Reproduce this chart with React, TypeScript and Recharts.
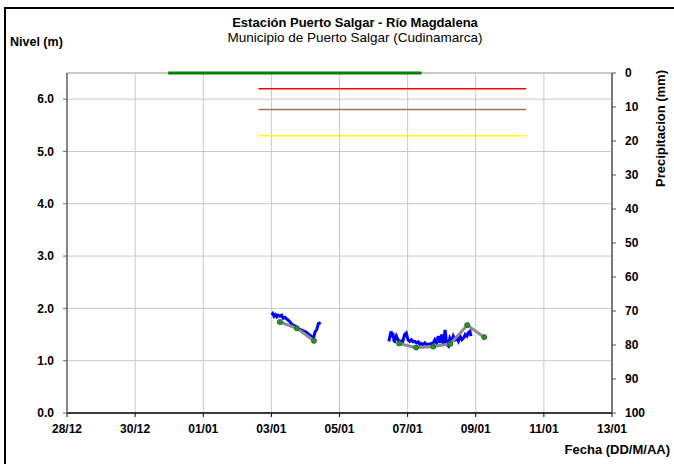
import {
  CartesianGrid,
  ComposedChart,
  Line,
  ReferenceLine,
  XAxis,
  YAxis,
} from "recharts";

// eje X: dias contados desde el 28/12
const etiquetasFecha = ["28/12", "30/12", "01/01", "03/01", "05/01", "07/01", "09/01", "11/01", "13/01"];
const diasTicks = etiquetasFecha.map((_, i) => i * 2);
const nivelTicks = [0, 1, 2, 3, 4, 5, 6];
const precipTicks = [0, 10, 20, 30, 40, 50, 60, 70, 80, 90, 100];

// nivel registrado (sensor) - [dia, nivel m]
const nivelTramo1: [number, number][] = [
  [6.01, 1.87], [6.04, 1.9], [6.08, 1.85], [6.12, 1.88], [6.16, 1.84], [6.2, 1.87],
  [6.25, 1.85], [6.3, 1.87], [6.35, 1.81], [6.4, 1.83], [6.45, 1.8], [6.5, 1.77],
  [6.55, 1.74], [6.6, 1.7], [6.64, 1.68], [6.7, 1.66], [6.74, 1.65], [6.8, 1.61],
  [6.84, 1.6], [6.9, 1.58], [6.94, 1.57], [7.0, 1.55], [7.04, 1.54], [7.1, 1.5],
  [7.13, 1.49], [7.18, 1.46], [7.23, 1.41], [7.28, 1.55], [7.33, 1.59], [7.38, 1.71],
  [7.45, 1.73],
];

const nivelTramo2: [number, number][] = [
  [9.45, 1.37], [9.49, 1.5], [9.52, 1.56], [9.55, 1.45], [9.57, 1.53], [9.6, 1.38],
  [9.62, 1.37], [9.67, 1.47], [9.72, 1.4], [9.77, 1.36], [9.82, 1.38], [9.86, 1.37],
  [9.91, 1.5], [9.96, 1.53], [10.01, 1.4], [10.06, 1.37], [10.11, 1.4], [10.16, 1.36],
  [10.21, 1.37], [10.26, 1.34], [10.31, 1.36], [10.36, 1.31], [10.4, 1.33], [10.45, 1.3],
  [10.5, 1.34], [10.55, 1.31], [10.65, 1.32], [10.75, 1.34], [10.8, 1.4], [10.85, 1.34],
  [10.9, 1.47], [10.95, 1.34], [11.0, 1.5], [11.05, 1.32], [11.1, 1.59], [11.15, 1.31],
  [11.2, 1.28], [11.24, 1.43], [11.29, 1.37], [11.34, 1.47], [11.39, 1.4], [11.44, 1.43],
  [11.49, 1.37], [11.54, 1.47], [11.59, 1.4], [11.64, 1.43], [11.69, 1.5], [11.74, 1.47],
  [11.78, 1.53], [11.83, 1.56], [11.86, 1.47],
];

// lecturas de mira
const lecturas1: [number, number][] = [[6.25, 1.74], [6.75, 1.62], [7.25, 1.38]];
const lecturas2: [number, number][] = [
  [9.75, 1.33], [10.25, 1.25], [10.75, 1.27], [11.25, 1.32], [11.75, 1.68], [12.25, 1.45],
];

// umbrales de alerta
const umbralRojo = 6.2;
const umbralNaranja = 5.8;
const umbralAmarillo = 5.3;
const umbralDias = [5.62, 13.48];

// precipitacion diaria (mm)
const precipDias = [2.97, 4, 5, 6, 7, 8, 9, 10, 10.41];
const precipValores = [0, 0, 0, 0, 0, 0, 0, 0, 0];

const toPts = (arr: [number, number][]) => arr.map(([t, v]) => ({ t, v }));
const umbral = (v: number) => umbralDias.map((t) => ({ t, v }));
const precipData = precipDias.map((t, i) => ({ t, p: precipValores[i] }));

const font = "Arial, 'Liberation Sans', sans-serif";
const tickStyle = { fill: "#000", fontSize: 12, fontWeight: 700, fontFamily: font };
const puntoVerde = { r: 2.5, fill: "#2f8f2f", stroke: "#1f6f1f", strokeWidth: 1 };

const App = () => {
  return (
    <div
      style={{
        position: "absolute",
        left: 0,
        top: 0,
        width: 674,
        height: 464,
        background: "#fff",
        fontFamily: font,
        overflow: "hidden",
      }}
    >
      <div
        style={{
          position: "absolute",
          left: 4,
          top: 7,
          width: 700,
          height: 500,
          borderLeft: "2px solid #000",
          borderTop: "2px solid #000",
        }}
      />
      <ComposedChart
        width={674}
        height={464}
        margin={{ top: 73, right: 0, left: 0, bottom: 21 }}
        style={{ position: "absolute", left: 0, top: 0 }}
      >
        <CartesianGrid yAxisId="nivel" stroke="#c8c8c8" strokeWidth={1} />
        <XAxis
          dataKey="t"
          type="number"
          domain={[0, 16]}
          ticks={diasTicks}
          tickFormatter={(d: number) => etiquetasFecha[d / 2]}
          height={30}
          tick={tickStyle}
          tickSize={4}
          tickMargin={7}
          axisLine={{ stroke: "#000", strokeWidth: 1.5 }}
          tickLine={{ stroke: "#000" }}
        />
        <YAxis
          yAxisId="nivel"
          domain={[0, 6.5]}
          ticks={nivelTicks}
          tickFormatter={(v: number) => v.toFixed(1)}
          width={67}
          tick={tickStyle}
          tickSize={4}
          tickMargin={9}
          axisLine={{ stroke: "#666", strokeWidth: 1.5 }}
          tickLine={{ stroke: "#666" }}
        />
        <YAxis
          yAxisId="precip"
          orientation="right"
          reversed
          domain={[0, 100]}
          ticks={precipTicks}
          width={62}
          tick={tickStyle}
          tickSize={4}
          tickMargin={9}
          axisLine={{ stroke: "#555", strokeWidth: 1.5 }}
          tickLine={{ stroke: "#555" }}
        />
        <ReferenceLine yAxisId="nivel" y={6.5} stroke="#c0c0c0" strokeWidth={1.5} />

        <Line
          yAxisId="nivel"
          data={umbral(umbralRojo)}
          dataKey="v"
          stroke="#ff0000"
          strokeWidth={1.5}
          dot={false}
          isAnimationActive={false}
        />
        <Line
          yAxisId="nivel"
          data={umbral(umbralNaranja)}
          dataKey="v"
          stroke="#a0744a"
          strokeWidth={1.5}
          dot={false}
          isAnimationActive={false}
        />
        <Line
          yAxisId="nivel"
          data={umbral(umbralAmarillo)}
          dataKey="v"
          stroke="#ffff00"
          strokeWidth={1.5}
          dot={false}
          isAnimationActive={false}
        />
        <Line
          yAxisId="precip"
          data={precipData}
          dataKey="p"
          stroke="#008000"
          strokeWidth={3}
          dot={false}
          isAnimationActive={false}
        />

        <Line
          yAxisId="nivel"
          data={toPts(nivelTramo1)}
          dataKey="v"
          stroke="#0000ff"
          strokeWidth={3}
          dot={false}
          isAnimationActive={false}
        />
        <Line
          yAxisId="nivel"
          data={toPts(nivelTramo2)}
          dataKey="v"
          stroke="#0000ff"
          strokeWidth={3}
          dot={false}
          isAnimationActive={false}
        />
        <Line
          yAxisId="nivel"
          data={toPts(lecturas1)}
          dataKey="v"
          stroke="#8c8c8c"
          strokeWidth={3}
          dot={puntoVerde}
          isAnimationActive={false}
        />
        <Line
          yAxisId="nivel"
          data={toPts(lecturas2)}
          dataKey="v"
          stroke="#8c8c8c"
          strokeWidth={3}
          dot={puntoVerde}
          isAnimationActive={false}
        />
      </ComposedChart>

      <div
        style={{
          position: "absolute",
          left: 155,
          top: 15,
          width: 400,
          textAlign: "center",
          fontSize: 13,
          fontWeight: 700,
          lineHeight: "15px",
        }}
      >
        Estación Puerto Salgar - Río Magdalena
      </div>
      <div
        style={{
          position: "absolute",
          left: 155,
          top: 30,
          width: 400,
          textAlign: "center",
          fontSize: 13.5,
          lineHeight: "15px",
        }}
      >
        Municipio de Puerto Salgar (Cudinamarca)
      </div>
      <div
        style={{
          position: "absolute",
          left: 10,
          top: 35,
          fontSize: 12.5,
          fontWeight: 700,
          lineHeight: "15px",
        }}
      >
        Nivel (m)
      </div>
      <div
        style={{
          position: "absolute",
          left: 595,
          top: 121,
          width: 130,
          textAlign: "center",
          fontSize: 13,
          fontWeight: 700,
          lineHeight: "15px",
          transform: "rotate(-90deg)",
          whiteSpace: "nowrap",
        }}
      >
        Precipitacion (mm)
      </div>
      <div
        style={{
          position: "absolute",
          right: 4,
          top: 442,
          fontSize: 13,
          fontWeight: 700,
          lineHeight: "15px",
        }}
      >
        Fecha (DD/M/AA)
      </div>
    </div>
  );
};

export default App;
